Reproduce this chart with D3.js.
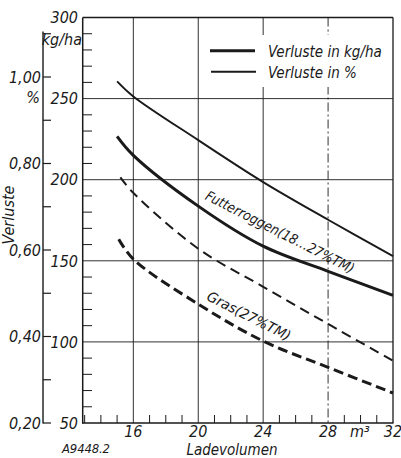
<!DOCTYPE html>
<html><head><meta charset="utf-8">
<script src="https://cdn.jsdelivr.net/npm/d3@7"></script>
<style>
html,body{margin:0;padding:0;background:#fff;}
svg text{font-family:"Liberation Sans Narrow","DejaVu Sans Condensed","Roboto Condensed",sans-serif;font-style:italic;fill:#1a1a1a;}
</style></head>
<body><svg id="c" width="401" height="458"></svg>
<script>
// ---- data ----
const volume      = [15, 16, 20, 24, 28, 32];                 // m³ (Futterroggen)
const futterKg    = [226.7, 215, 183.7, 159.0, 143.5, 128.7]; // kg/ha
const futterPct   = [0.99, 0.955, 0.854, 0.757, 0.670, 0.586];// %
const grasPctVol  = [15.2, 16, 20, 24, 28, 32];
const grasPct     = [0.768, 0.732, 0.603, 0.515, 0.429, 0.344];
const grasKgVol   = [15.1, 16, 20, 24, 28, 32];
const grasKg      = [163.3, 151, 123.3, 100.5, 84.3, 68.5];
const xTicks      = [16, 20, 24, 28, 32];
const kgTicks     = [50, 100, 150, 200, 250, 300];
const pctTicks    = [0.20, 0.40, 0.60, 0.80, 1.00];
const legendLabels = ["Verluste in kg/ha", "Verluste in %"];

const svg = d3.select("#c");
const x = d3.scaleLinear().domain([12.88, 32]).range([82.7, 393]);
const yKg = d3.scaleLinear().domain([50, 300]).range([423, 17.5]);
const yPct = d3.scaleLinear().domain([0.20, 1.00]).range([423, 77]);
const ink = "#1a1a1a";

// grid
const g = svg.append("g");
kgTicks.filter(v => v > 50).forEach(v => {
  g.append("line").attr("x1", x.range()[0]).attr("x2", x.range()[1])
   .attr("y1", yKg(v)).attr("y2", yKg(v))
   .attr("stroke", ink).attr("stroke-width", v === 300 ? 1.3 : 0.9);
});
xTicks.forEach(v => {
  g.append("line").attr("x1", x(v)).attr("x2", x(v))
   .attr("y1", yKg(300)).attr("y2", yKg(50))
   .attr("stroke", ink).attr("stroke-width", v === 32 ? 1.3 : 0.9)
   .attr("stroke-dasharray", v === 28 ? "9,3,2,3" : null);
});
// legend background (gridlines interrupted)
svg.append("rect").attr("x", 204).attr("y", 35).attr("width", 180).attr("height", 52).attr("fill", "#fff");

// minor ticks on x axis (inside)
d3.range(13, 32).filter(v => !xTicks.includes(v)).forEach(v => {
  g.append("line").attr("x1", x(v)).attr("x2", x(v)).attr("y1", 423).attr("y2", 415)
   .attr("stroke", ink).attr("stroke-width", 1);
});
// minor ticks on kg axis (inside)
d3.range(60, 300, 10).filter(v => v % 50 !== 0).forEach(v => {
  g.append("line").attr("x1", 82.7).attr("x2", 92).attr("y1", yKg(v)).attr("y2", yKg(v))
   .attr("stroke", ink).attr("stroke-width", 1);
});
// axes lines
g.append("line").attr("x1", 82.7).attr("x2", 82.7).attr("y1", yKg(300)).attr("y2", 423.5).attr("stroke", ink).attr("stroke-width", 1.5);
g.append("line").attr("x1", 82).attr("x2", 393.5).attr("y1", 423).attr("y2", 423).attr("stroke", ink).attr("stroke-width", 1.6);

// percent axis
g.append("line").attr("x1", 43).attr("x2", 43).attr("y1", yPct(1.105)).attr("y2", 423.5).attr("stroke", ink).attr("stroke-width", 1.4);
d3.range(0.2, 1.101, 0.1).forEach(v => {
  g.append("line").attr("x1", 43).attr("x2", 51).attr("y1", yPct(v)).attr("y2", yPct(v))
   .attr("stroke", ink).attr("stroke-width", 1.2);
});

// tick labels
const fs = 16;
kgTicks.forEach(v => {
  svg.append("text").attr("x", 78).attr("y", yKg(v)).attr("dy", "0.36em")
    .attr("text-anchor", "end").attr("font-size", fs).text(v);
});
svg.append("text").attr("x", 82).attr("y", 45).attr("text-anchor", "end").attr("font-size", fs).text("kg/ha");
pctTicks.forEach(v => {
  svg.append("text").attr("x", 41).attr("y", yPct(v)).attr("dy", "0.36em")
    .attr("text-anchor", "end").attr("font-size", fs).text(d3.format(".2f")(v).replace(".", ","));
});
svg.append("text").attr("x", 40).attr("y", 103).attr("text-anchor", "end").attr("font-size", fs).text("%");
svg.append("text").attr("transform", "translate(14,215) rotate(-90)").attr("text-anchor", "middle")
  .attr("font-size", fs).text("Verluste");
xTicks.forEach(v => {
  svg.append("text").attr("x", x(v)).attr("y", 437).attr("text-anchor", "middle").attr("font-size", fs).text(v);
});
svg.append("text").attr("x", 360).attr("y", 437).attr("text-anchor", "middle").attr("font-size", fs).text("m³");
svg.append("text").attr("x", 232).attr("y", 455).attr("text-anchor", "middle").attr("font-size", 15).text("Ladevolumen");
svg.append("text").attr("x", 86).attr("y", 453).attr("text-anchor", "middle").attr("font-size", 13)
  .attr("textLength", 48).text("A9448.2");

// curves
const cv = d3.curveCatmullRom.alpha(0.5);
const lineKg = (xs, ys) => d3.line().x((d, i) => x(xs[i])).y(d => yKg(d)).curve(cv)(ys);
const linePct = (xs, ys) => d3.line().x((d, i) => x(xs[i])).y(d => yPct(d)).curve(cv)(ys);
svg.append("path").attr("d", linePct(volume, futterPct)).attr("fill", "none").attr("stroke", ink).attr("stroke-width", 1.9);
svg.append("path").attr("d", lineKg(volume, futterKg)).attr("fill", "none").attr("stroke", ink).attr("stroke-width", 3);
svg.append("path").attr("d", linePct(grasPctVol, grasPct)).attr("fill", "none").attr("stroke", ink).attr("stroke-width", 2).attr("stroke-dasharray", "10,6");
svg.append("path").attr("d", lineKg(grasKgVol, grasKg)).attr("fill", "none").attr("stroke", ink).attr("stroke-width", 3).attr("stroke-dasharray", "10,5");

// curve labels
svg.append("text").attr("transform", "translate(280,232) rotate(27)").attr("text-anchor", "middle").attr("dy", "0.35em")
  .attr("font-size", 14).attr("textLength", 165).attr("lengthAdjust", "spacingAndGlyphs").text("Futterroggen(18…27%TM)");
svg.append("text").attr("transform", "translate(249,316) rotate(27)").attr("text-anchor", "middle").attr("dy", "0.35em")
  .attr("font-size", 14).attr("textLength", 92).attr("lengthAdjust", "spacingAndGlyphs").text("Gras(27%TM)");

// legend
svg.append("line").attr("x1", 210).attr("x2", 255).attr("y1", 50.7).attr("y2", 50.7).attr("stroke", ink).attr("stroke-width", 3);
svg.append("line").attr("x1", 211).attr("x2", 256).attr("y1", 71.7).attr("y2", 71.7).attr("stroke", ink).attr("stroke-width", 1.9);
legendLabels.forEach((t, i) => {
  svg.append("text").attr("x", 268).attr("y", 51.5 + i * 21).attr("dy", "0.36em").attr("font-size", 15).text(t);
});
</script></body></html>
